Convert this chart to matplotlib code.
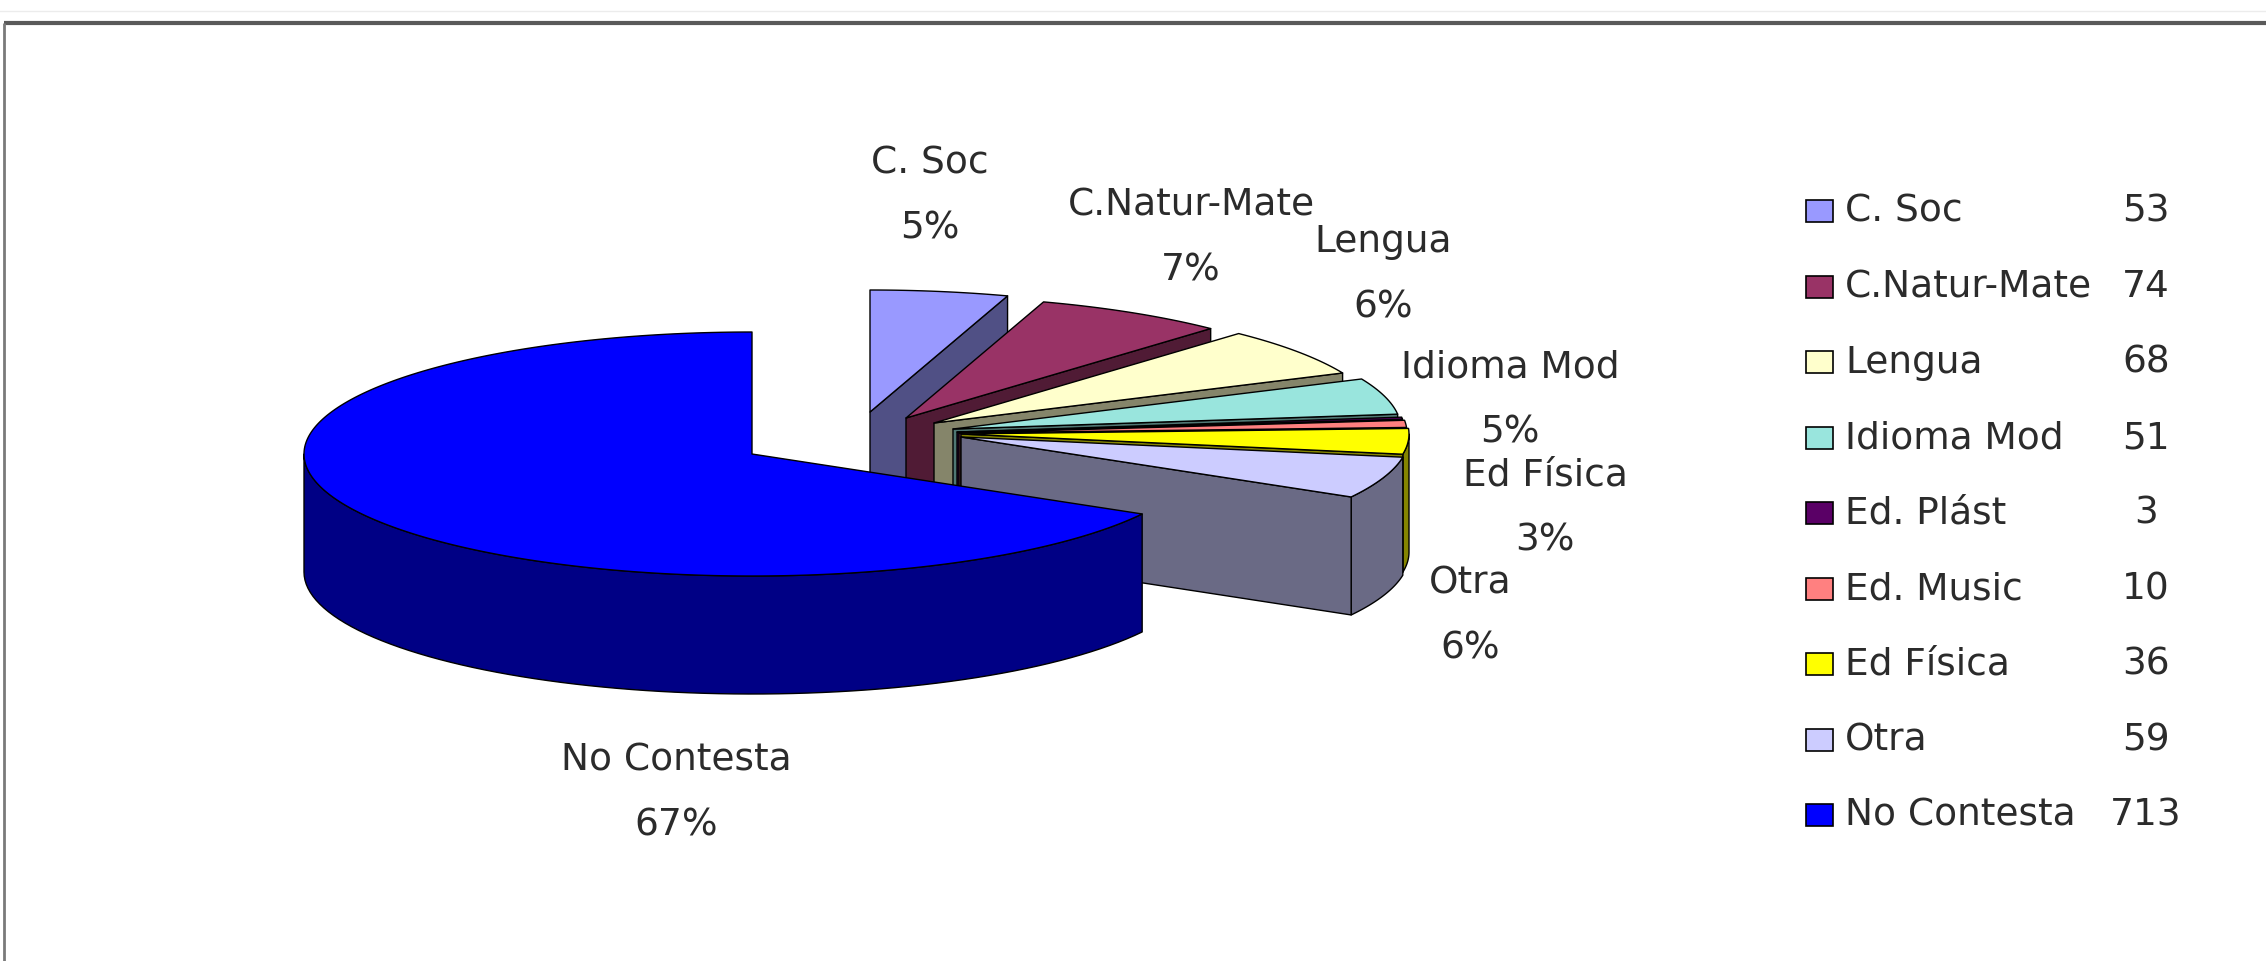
import numpy as np
import matplotlib
matplotlib.use("Agg")
import matplotlib.pyplot as plt
from matplotlib.patches import Polygon, Rectangle
from matplotlib.colors import to_rgb

# ---- data -------------------------------------------------------------
categories = ["C. Soc", "C.Natur-Mate", "Lengua", "Idioma Mod", "Ed. Plást",
              "Ed. Music", "Ed Física", "Otra", "No Contesta"]
counts = [53, 74, 68, 51, 3, 10, 36, 59, 713]
colors = ["#9999FF", "#993366", "#FFFFCC", "#99E5DD", "#5A0066",
          "#FF8080", "#FFFF00", "#CCCCFF", "#0000FF"]

# ---- layout (pixel space of the canvas) -------------------------------
W, H = 2266, 962
CX, CY = 752, 455          # centre of the pie (top face)
RX, RY = 448, 122          # ellipse radii of the tilted disc
DEPTH = 118                # thickness of the disc
# per-slice displacement of the exploded wedges
explode_px = [(118, -42), (154, -36), (182, -31), (201, -25), (205, -22),
              (207, -21), (209, -20), (209, -17), (0, 0)]
# where each slice's label block is centred (None = not labelled)
label_xy = [(930, 196), (1191, 238), (1383, 275), (1510, 400), None,
            None, (1545, 508), (1470, 616), (676, 793)]
LABEL_GAP = 32.5
SIDE_SHADE = 0.52
TEXT_COLOR = "#2b2b2b"
FONT = "DejaVu Sans"
FS = 27

fig = plt.figure(figsize=(W / 100, H / 100), dpi=100)
fig.patch.set_facecolor("white")
ax = fig.add_axes([0, 0, 1, 1])
ax.set_xlim(0, W)
ax.set_ylim(H, 0)
ax.axis("off")


def shade(c, f):
    r, g, b = to_rgb(c)
    return (r * f, g * f, b * f)


def rim(cx, cy, th, dz=0.0):
    th = np.asarray(th)
    return np.column_stack([cx + RX * np.sin(th), cy - RY * np.cos(th) + dz])


total = float(sum(counts))
bounds = np.concatenate([[0.0], np.cumsum(counts)]) / total * 2 * np.pi

# draw small wedges back to front, the large one last (it sits in front)
order = list(range(len(counts) - 1)) + [len(counts) - 1]
for i in order:
    a0, a1 = bounds[i], bounds[i + 1]
    cx, cy = CX + explode_px[i][0], CY + explode_px[i][1]
    top = colors[i]
    side = shade(top, SIDE_SHADE)
    ekw = dict(edgecolor="black", linewidth=1.0, joinstyle="round")

    # outer curved wall (front half only)
    w0, w1 = max(a0, np.pi / 2), min(a1, 3 * np.pi / 2)
    if w1 > w0:
        th = np.linspace(w0, w1, 80)
        upper = rim(cx, cy, th)
        lower = rim(cx, cy, th[::-1], DEPTH)
        ax.add_patch(Polygon(np.vstack([upper, lower]), closed=True,
                             facecolor=side, **ekw))

    # radial faces
    for a, visible in ((a0, np.sin(a0) < -1e-9), (a1, np.sin(a1) > 1e-9)):
        if visible:
            p = rim(cx, cy, [a])[0]
            quad = [(cx, cy), tuple(p), (p[0], p[1] + DEPTH), (cx, cy + DEPTH)]
            ax.add_patch(Polygon(quad, closed=True, facecolor=side, **ekw))

    # top face
    th = np.linspace(a0, a1, max(4, int((a1 - a0) / (2 * np.pi) * 360)))
    poly = np.vstack([[cx, cy], rim(cx, cy, th)])
    ax.add_patch(Polygon(poly, closed=True, facecolor=top, **ekw))

# slice labels: name and percentage
for i, pos in enumerate(label_xy):
    if pos is None:
        continue
    pct = round(counts[i] / total * 100)
    ax.text(pos[0], pos[1] - LABEL_GAP, categories[i], ha="center", va="center",
            fontsize=FS, family=FONT, color=TEXT_COLOR)
    ax.text(pos[0], pos[1] + LABEL_GAP, f"{pct}%", ha="center", va="center",
            fontsize=FS, family=FONT, color=TEXT_COLOR)

# legend with counts
LEG_X, LEG_Y0, LEG_DY = 1806, 212, 75.5
for i, name in enumerate(categories):
    y = LEG_Y0 + i * LEG_DY
    ax.add_patch(Rectangle((LEG_X, y - 11), 27, 22, facecolor=colors[i],
                           edgecolor="black", linewidth=1.2))
    ax.text(1845, y, name, ha="left", va="center", fontsize=FS,
            family=FONT, color=TEXT_COLOR)
    ax.text(2146, y, str(counts[i]), ha="center", va="center", fontsize=FS,
            family=FONT, color=TEXT_COLOR)

# chart-area frame: top and left borders
ax.plot([0, W], [12, 12], color="#ececec", linewidth=1.0)
ax.plot([4, W], [24, 24], color="#5a5a5a", linewidth=3.0, solid_capstyle="butt")
ax.plot([4, 4], [24, H], color="#7a7a7a", linewidth=2.0, solid_capstyle="butt")

fig.savefig("out.png", dpi=100, facecolor="white")
